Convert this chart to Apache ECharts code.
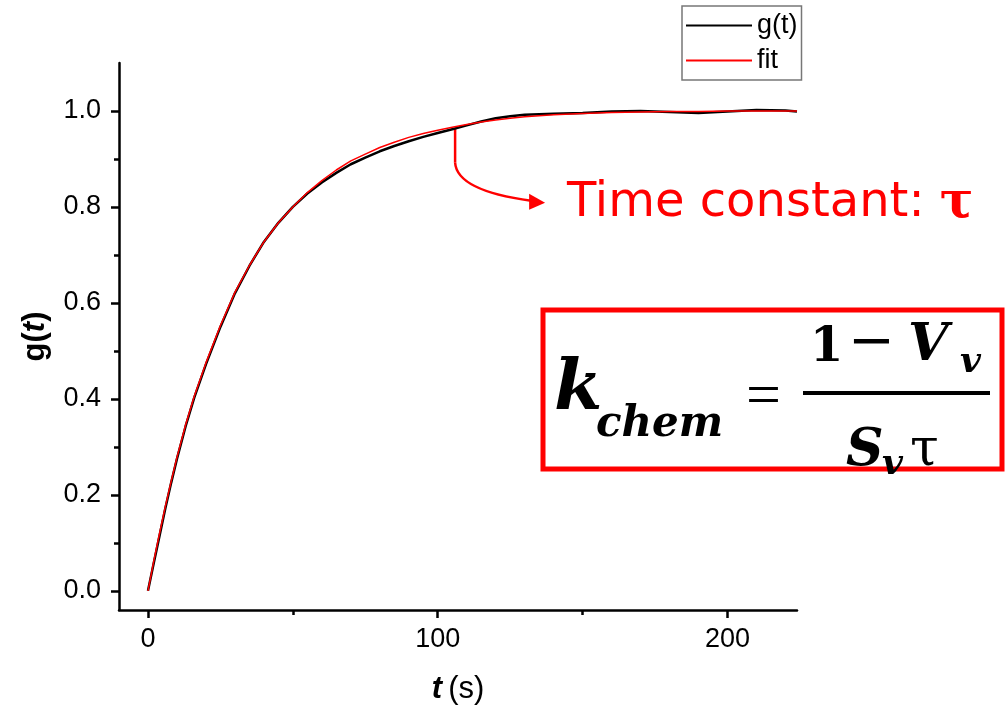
<!DOCTYPE html>
<html>
<head>
<meta charset="utf-8">
<script src="https://cdn.jsdelivr.net/npm/echarts@6/dist/echarts.min.js"></script>
<style>
  html, body { margin: 0; padding: 0; background: #fff; }
  #chart { width: 1005px; height: 708px; }
</style>
</head>
<body>
<div id="chart"></div>
<script>
// time axis (s)
const tValues = [0, 2, 4, 6, 8, 10, 13, 16, 20, 25, 30, 35, 40, 45, 50, 55, 60, 65, 70, 75, 80, 85, 90, 95,
  100, 105, 110, 115, 120, 125, 130, 140, 150, 160, 170, 180, 190, 200, 210, 220, 224]
// measured g(t)
const gValues = [0, 0.058, 0.115, 0.172, 0.225, 0.275, 0.343, 0.403, 0.472, 0.55, 0.62, 0.677, 0.727, 0.767,
  0.8, 0.828, 0.851, 0.871, 0.889, 0.903, 0.916, 0.927, 0.937, 0.946, 0.954, 0.962, 0.97, 0.978, 0.985,
  0.989, 0.992, 0.994, 0.996, 0.999, 1.0, 0.998, 0.996, 0.999, 1.002, 1.001, 0.999]
// exponential fit
const fitValues = [0, 0.062, 0.12, 0.176, 0.228, 0.278, 0.346, 0.406, 0.475, 0.553, 0.622, 0.678, 0.727,
  0.767, 0.8, 0.83, 0.855, 0.877, 0.896, 0.91, 0.924, 0.935, 0.945, 0.953, 0.96, 0.966, 0.972, 0.977,
  0.981, 0.985, 0.988, 0.992, 0.995, 0.997, 0.998, 0.999, 0.999, 1.0, 1.0, 1.0, 1.0]

const yTicks = [0, 0.2, 0.4, 0.6, 0.8, 1.0]
const yMinorTicks = [0.1, 0.3, 0.5, 0.7, 0.9]
const xTicks = [0, 100, 200]
const xMinorTicks = [50, 150]

const tauAnchor = [106, 0.963]

const chart = echarts.init(document.getElementById('chart'), null, { renderer: 'canvas' })

const axisFont = { fontFamily: 'Liberation Sans', fontSize: 27, color: '#000' }
const axisLine = { show: true, onZero: false, lineStyle: { color: '#000', width: 2.5 } }

const option = {
  animation: false,
  backgroundColor: '#fff',
  grid: { left: 119, right: 208, top: 63, bottom: 98, outerBoundsMode: 'none' },
  legend: {
    orient: 'vertical',
    left: 682, top: 6,
    padding: [6, 4, 6, 4],
    itemGap: 8,
    icon: 'rect',
    itemWidth: 66, itemHeight: 2,
    borderColor: '#777', borderWidth: 1.5,
    textStyle: { fontFamily: 'Liberation Sans', fontSize: 27, color: '#000' },
    data: ['g(t)', 'fit']
  },
  xAxis: [
    {
      type: 'value', min: -10, max: 224, position: 'bottom',
      axisLine,
      splitLine: { show: false },
      axisTick: { show: true, length: 8, customValues: xTicks, lineStyle: { width: 2.5, color: '#000' } },
      axisLabel: { ...axisFont, margin: 16, customValues: xTicks },
      name: '{i|t}{n|\u2009(s)}',
      nameLocation: 'middle',
      nameGap: 64,
      nameTextStyle: {
        rich: {
          i: { fontFamily: 'Liberation Sans', fontSize: 31, fontWeight: 'bold', fontStyle: 'italic', color: '#000' },
          n: { fontFamily: 'Liberation Sans', fontSize: 31, color: '#000' }
        }
      }
    },
    {
      type: 'value', min: -10, max: 224, position: 'bottom',
      axisLine: { show: false, onZero: false },
      splitLine: { show: false },
      axisTick: { show: true, length: 5, customValues: xMinorTicks, lineStyle: { width: 2.5, color: '#000' } },
      axisLabel: { show: false }
    }
  ],
  yAxis: [
    {
      type: 'value', min: -0.04, max: 1.1, position: 'left',
      axisLine,
      splitLine: { show: false },
      axisTick: { show: true, length: 8, customValues: yTicks, lineStyle: { width: 2.5, color: '#000' } },
      axisLabel: { ...axisFont, margin: 18, customValues: yTicks, formatter: v => v.toFixed(1) },
      name: '{b|g(}{i|t}{b|)}',
      nameLocation: 'middle',
      nameRotate: 90,
      nameGap: 68,
      nameTextStyle: {
        rich: {
          b: { fontFamily: 'Liberation Sans', fontSize: 31, fontWeight: 'bold', color: '#000' },
          i: { fontFamily: 'Liberation Sans', fontSize: 31, fontWeight: 'bold', fontStyle: 'italic', color: '#000' }
        }
      }
    },
    {
      type: 'value', min: -0.04, max: 1.1, position: 'left',
      axisLine: { show: false, onZero: false },
      splitLine: { show: false },
      axisTick: { show: true, length: 5, customValues: yMinorTicks, lineStyle: { width: 2.5, color: '#000' } },
      axisLabel: { show: false }
    }
  ],
  series: [
    {
      name: 'g(t)', type: 'line', xAxisIndex: 0, yAxisIndex: 0,
      data: tValues.map((t, i) => [t, gValues[i]]),
      symbol: 'none', smooth: false,
      lineStyle: { color: '#000', width: 2.5 },
      itemStyle: { color: '#000' }
    },
    {
      name: 'fit', type: 'line', xAxisIndex: 0, yAxisIndex: 0,
      data: tValues.map((t, i) => [t, fitValues[i]]),
      symbol: 'none', smooth: false,
      lineStyle: { color: '#ff0000', width: 1.5 },
      itemStyle: { color: '#ff0000' }
    }
  ]
}

chart.setOption(option)

// annotation: arrow from the curve to the "Time constant" label, plus the formula box
const [ax, ay] = chart.convertToPixel({ xAxisIndex: 0, yAxisIndex: 0 }, tauAnchor)
const red = '#ff0000'
const bi = size => 'bold italic ' + size + 'px "DejaVu Serif"'

chart.setOption({
  graphic: [
    { type: 'line', shape: { x1: ax, y1: ay, x2: ax, y2: ay + 34 }, style: { stroke: red, lineWidth: 2.5 } },
    { type: 'bezierCurve', shape: { x1: ax, y1: ay + 34, cpx1: ax + 2, cpy1: ay + 62, x2: ax + 76, y2: ay + 72 },
      style: { stroke: red, lineWidth: 2.5, fill: null } },
    { type: 'polygon', shape: { points: [[ax + 90, ay + 74], [ax + 74, ay + 65], [ax + 74, ay + 81]] },
      style: { fill: red } },
    { type: 'text', left: 567, top: 179,
      style: {
        text: '{a|Time constant: }{b|τ}',
        rich: {
          a: { fontFamily: 'DejaVu Sans', fontSize: 48, fill: red },
          b: { fontFamily: 'DejaVu Serif', fontWeight: 'bold', fontSize: 50, fill: red }
        }
      } },
    { type: 'rect', shape: { x: 543, y: 310, width: 459, height: 159 },
      style: { stroke: red, lineWidth: 5, fill: null } },
    // k_chem
    { type: 'text', x: 554, y: 356, style: { text: 'k', font: bi(70), fill: '#000' } },
    { type: 'text', x: 596, y: 404, style: { text: 'chem', font: bi(42), fill: '#000' } },
    { type: 'text', x: 746, y: 368, style: { text: '=', font: '62px "Liberation Serif"', fill: '#000' } },
    // fraction
    { type: 'text', x: 810, y: 325, style: { text: '1', font: 'bold 48px "DejaVu Serif"', fill: '#000' } },
    { type: 'text', x: 848, y: 316, style: { text: '−', font: '56px "DejaVu Serif"', fill: '#000' } },
    { type: 'text', x: 908, y: 320, style: { text: 'V', font: bi(52), fill: '#000' } },
    { type: 'text', x: 960, y: 345, style: { text: 'v', font: bi(36), fill: '#000' } },
    { type: 'line', shape: { x1: 803, y1: 393, x2: 990, y2: 393 }, style: { stroke: '#000', lineWidth: 4 } },
    { type: 'text', x: 846, y: 425, style: { text: 'S', font: bi(52), fill: '#000' } },
    { type: 'text', x: 882, y: 447, style: { text: 'v', font: bi(36), fill: '#000' } },
    { type: 'text', x: 910, y: 425, style: { text: 'τ', font: '52px "DejaVu Serif"', fill: '#000' } }
  ]
})
</script>
</body>
</html>
